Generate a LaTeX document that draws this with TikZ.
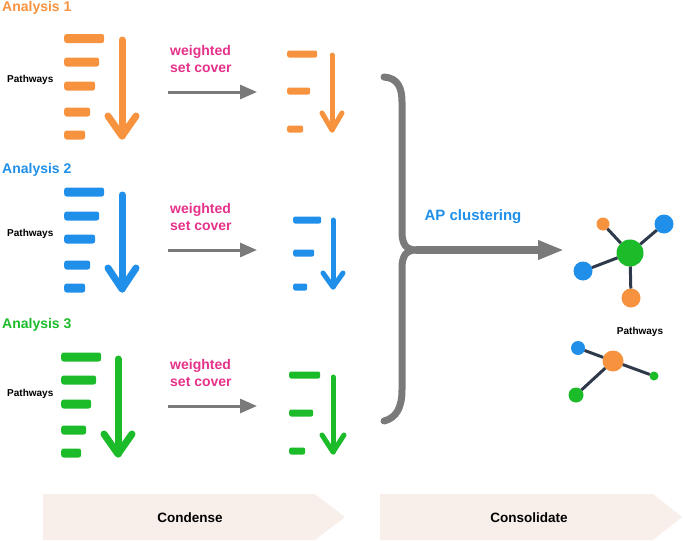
\documentclass[tikz,border=0pt]{standalone}
\usepackage{fontspec}
\setmainfont{Liberation Sans}
\usetikzlibrary{arrows.meta}
\definecolor{corange}{HTML}{F7923F}
\definecolor{cblue}{HTML}{1F8FE9}
\definecolor{cgreen}{HTML}{1CBB2A}
\definecolor{cpink}{HTML}{E6318A}
\definecolor{cgray}{HTML}{7A7A7A}
\definecolor{cslate}{HTML}{2E3A4B}
\definecolor{cband}{HTML}{F8EEEA}
\begin{document}
\begin{tikzpicture}[x=1pt,y=-1pt,
  lbl/.style={font=\fontsize{14}{16}\selectfont\bfseries, inner sep=0, anchor=west},
  pw/.style={font=\fontsize{10}{12}\selectfont\bfseries, inner sep=0, anchor=west},
  wsc/.style={font=\fontsize{14}{17.5}\selectfont\bfseries, text=cpink, align=left, inner sep=0, anchor=west},
  bigbar/.style={rounded corners=2.5pt, minimum height=9pt, inner sep=0, anchor=west},
  smallbar/.style={rounded corners=2pt, minimum height=7pt, inner sep=0, anchor=west},
  bigarrow/.style={line width=7pt, line cap=round, line join=round},
  smallarrow/.style={line width=5pt, line cap=round, line join=round},
  flowarrow/.style={draw=cgray, line width=3pt, -{Triangle[length=17pt,width=14pt]}},
  netdot/.style={circle, inner sep=0, outer sep=0},
  netedge/.style={draw=cslate, line width=3pt},
  stepband/.style={fill=cband},
  bandtext/.style={font=\fontsize{13.5}{16}\selectfont\bfseries, inner sep=0}
  ]
\useasboundingbox (0,0) rectangle (683,541);

% ---------- labels ----------
\node[lbl, text=corange] (an1) at (2,8) {Analysis 1};
\node[lbl, text=cblue] (an2) at (2,170) {Analysis 2};
\node[lbl, text=cgreen] (an3) at (2,325) {Analysis 3};
\node[pw] (pw1) at (7,80) {Pathways};
\node[pw] (pw2) at (7,234) {Pathways};
\node[pw] (pw3) at (7,394) {Pathways};

% ---------- group 1 ----------
\node[bigbar, fill=corange, minimum width=40pt] (o1) at (64,38.5) {};
\node[bigbar, fill=corange, minimum width=35pt] (o2) at (64,62) {};
\node[bigbar, fill=corange, minimum width=31pt] (o3) at (64,86) {};
\node[bigbar, fill=corange, minimum width=26pt] (o4) at (64,112) {};
\node[bigbar, fill=corange, minimum width=21pt] (o5) at (64,135) {};
\coordinate (oT) at (122,40); \coordinate (oA) at (122,136);
\coordinate (oL) at (108,116); \coordinate (oR) at (136,116);
\draw[bigarrow, corange] (oT) -- (oA);
\draw[bigarrow, corange] (oL) -- (oA) -- (oR);

\node[wsc] (w1) at (170,59) {weighted\\set cover};
\coordinate (f1s) at (168,92); \coordinate (f1e) at (257,92);
\draw[flowarrow] (f1s) -- (f1e);

\node[smallbar, fill=corange, minimum width=30pt] (so1) at (287,54) {};
\node[smallbar, fill=corange, minimum width=23pt] (so2) at (287,91) {};
\node[smallbar, fill=corange, minimum width=16pt] (so3) at (287,129) {};
\coordinate (soT) at (332,55); \coordinate (soA) at (332,130);
\coordinate (soL) at (322,113); \coordinate (soR) at (342,113);
\draw[smallarrow, corange] (soT) -- (soA);
\draw[smallarrow, corange] (soL) -- (soA) -- (soR);

% ---------- group 2 ----------
\node[bigbar, fill=cblue, minimum width=40pt] (b1) at (64,192) {};
\node[bigbar, fill=cblue, minimum width=35pt] (b2) at (64,216) {};
\node[bigbar, fill=cblue, minimum width=31pt] (b3) at (64,239) {};
\node[bigbar, fill=cblue, minimum width=26pt] (b4) at (64,265) {};
\node[bigbar, fill=cblue, minimum width=21pt] (b5) at (64,288) {};
\coordinate (bT) at (122,195); \coordinate (bA) at (122,289);
\coordinate (bL) at (108,268); \coordinate (bR) at (136,268);
\draw[bigarrow, cblue] (bT) -- (bA);
\draw[bigarrow, cblue] (bL) -- (bA) -- (bR);

\node[wsc] (w2) at (170,217) {weighted\\set cover};
\coordinate (f2s) at (168,250); \coordinate (f2e) at (257,250);
\draw[flowarrow] (f2s) -- (f2e);

\node[smallbar, fill=cblue, minimum width=28pt] (sb1) at (293,220) {};
\node[smallbar, fill=cblue, minimum width=21pt] (sb2) at (293,253) {};
\node[smallbar, fill=cblue, minimum width=14pt] (sb3) at (293,287) {};
\coordinate (sbT) at (333,220); \coordinate (sbA) at (333,287);
\coordinate (sbL) at (323,273); \coordinate (sbR) at (343,273);
\draw[smallarrow, cblue] (sbT) -- (sbA);
\draw[smallarrow, cblue] (sbL) -- (sbA) -- (sbR);

% ---------- group 3 ----------
\node[bigbar, fill=cgreen, minimum width=40pt] (g1) at (61,357) {};
\node[bigbar, fill=cgreen, minimum width=35pt] (g2) at (61,380) {};
\node[bigbar, fill=cgreen, minimum width=30pt] (g3) at (61,404) {};
\node[bigbar, fill=cgreen, minimum width=25pt] (g4) at (61,430) {};
\node[bigbar, fill=cgreen, minimum width=20pt] (g5) at (61,453) {};
\coordinate (gT) at (118,359); \coordinate (gA) at (118,454);
\coordinate (gL) at (104,434); \coordinate (gR) at (132,434);
\draw[bigarrow, cgreen] (gT) -- (gA);
\draw[bigarrow, cgreen] (gL) -- (gA) -- (gR);

\node[wsc] (w3) at (170,373) {weighted\\set cover};
\coordinate (f3s) at (168,406); \coordinate (f3e) at (257,406);
\draw[flowarrow] (f3s) -- (f3e);

\node[smallbar, fill=cgreen, minimum width=31pt] (sg1) at (289,375) {};
\node[smallbar, fill=cgreen, minimum width=24pt] (sg2) at (289,413) {};
\node[smallbar, fill=cgreen, minimum width=16pt] (sg3) at (289,451) {};
\coordinate (sgT) at (333,377); \coordinate (sgA) at (333,452);
\coordinate (sgL) at (322,435); \coordinate (sgR) at (344,435);
\draw[smallarrow, cgreen] (sgT) -- (sgA);
\draw[smallarrow, cgreen] (sgL) -- (sgA) -- (sgR);

% ---------- bracket ----------
\coordinate (brTop) at (384,77);
\coordinate (brMid) at (416,250);
\coordinate (brBot) at (384,421);
\coordinate (apEnd) at (564,250);
\draw[cgray, line width=7pt, line cap=round]
  (brTop) .. controls (398,78) and (402,88) .. (402,102) -- (402,232)
  .. controls (402,244) and (406,250) .. (brMid);
\draw[cgray, line width=7pt, line cap=round]
  (brMid) .. controls (406,250) and (402,256) .. (402,268) -- (402,390)
  .. controls (402,408) and (396,418) .. (brBot);
\draw[cgray, line width=8pt, -{Triangle[length=26pt,width=18pt]}] (brMid) -- (apEnd);
\node[font=\fontsize{15}{18}\selectfont\bfseries, text=cblue, inner sep=0] (ap) at (473,217) {AP clustering};

% ---------- network 1 ----------
\node[netdot, fill=cgreen, minimum size=27pt] (n1c) at (630,253) {};
\node[netdot, fill=cblue, minimum size=19pt] (n1ur) at (664,224) {};
\node[netdot, fill=corange, minimum size=13pt] (n1ul) at (603,224) {};
\node[netdot, fill=cblue, minimum size=19pt] (n1l) at (583,271) {};
\node[netdot, fill=corange, minimum size=19pt] (n1b) at (631,298) {};
\draw[netedge] (n1c) -- (n1ur);
\draw[netedge] (n1c) -- (n1ul);
\draw[netedge] (n1c) -- (n1l);
\draw[netedge] (n1c) -- (n1b);

% ---------- network 2 ----------
\node[pw, anchor=center] (pwn) at (640,332) {Pathways};
\node[netdot, fill=corange, minimum size=21pt] (n2c) at (613,361) {};
\node[netdot, fill=cblue, minimum size=14pt] (n2b) at (578,348) {};
\node[netdot, fill=cgreen, minimum size=9pt] (n2r) at (654,376) {};
\node[netdot, fill=cgreen, minimum size=15pt] (n2g) at (576,395) {};
\draw[netedge] (n2c) -- (n2b);
\draw[netedge] (n2c) -- (n2r);
\draw[netedge] (n2c) -- (n2g);

% ---------- bottom bands ----------
\fill[stepband] (43,494) -- (315,494) -- (345,517) -- (315,540) -- (43,540) -- cycle;
\fill[stepband] (380,494) -- (653,494) -- (682,517) -- (653,540) -- (380,540) -- cycle;
\node[bandtext] (cond) at (190,518) {Condense};
\node[bandtext] (cons) at (529,518) {Consolidate};
\end{tikzpicture}
\end{document}
